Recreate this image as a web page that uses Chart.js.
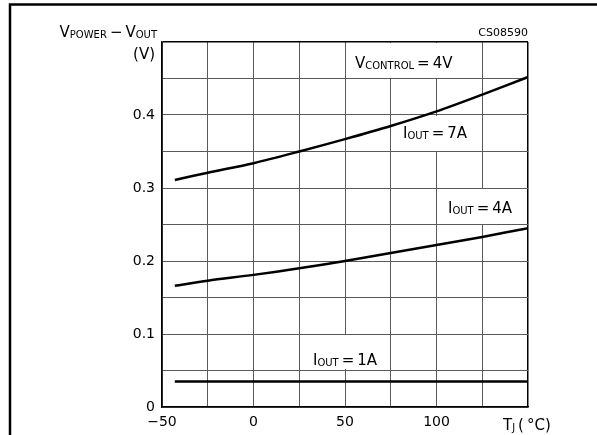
<!DOCTYPE html>
<html>
<head>
<meta charset="utf-8">
<script src="https://cdn.jsdelivr.net/npm/chart.js@4"></script>
<style>
  body { margin: 0; background: #fff; }
  #wrap { width: 597px; height: 435px; }
</style>
</head>
<body>
<div id="wrap"><canvas id="drop-chart" width="597" height="435"></canvas></div>
<script>
// Dropout voltage vs junction temperature

const tempC = [-43, -25, 0, 25, 50, 75, 100, 125, 150];
const drop7A = [0.311, 0.321, 0.334, 0.350, 0.367, 0.385, 0.405, 0.428, 0.452];
const drop4A = [0.166, 0.173, 0.181, 0.190, 0.200, 0.211, 0.222, 0.233, 0.245];
const drop1A = [0.035, 0.035, 0.035, 0.035, 0.035, 0.035, 0.035, 0.035, 0.035];

const xTickLabels = { '-50': '\u221250', '0': '0', '50': '50', '100': '100' };
const yTickLabels = { '0': '0', '10': '0.1', '20': '0.2', '30': '0.3', '40': '0.4' };

const FONT = '"DejaVu Sans", sans-serif';

function pts(ys) {
    return tempC.map((t, i) => ({ x: t, y: ys[i] }));
}

function curve(label, ys) {
    return {
        label: label,
        data: pts(ys),
        borderColor: '#000',
        borderWidth: 2.5,
        pointRadius: 0,
        tension: 0.3,
        fill: false
    };
}

// draws text with smaller subscript parts, left aligned at x
function drawRich(ctx, x, y, parts) {
    ctx.save();
    ctx.fillStyle = '#000';
    ctx.textBaseline = 'alphabetic';
    ctx.textAlign = 'left';
    let cx = x;
    parts.forEach(p => {
        ctx.font = p.size + 'px ' + FONT;
        ctx.fillText(p.t, cx, y + (p.dy || 0));
        cx += ctx.measureText(p.t).width;
    });
    ctx.restore();
}

function richWidth(ctx, parts) {
    let w = 0;
    ctx.save();
    parts.forEach(p => {
        ctx.font = p.size + 'px ' + FONT;
        w += ctx.measureText(p.t).width;
    });
    ctx.restore();
    return w;
}

function whiteBox(ctx, x1, y1, x2, y2) {
    ctx.save();
    ctx.fillStyle = '#fff';
    ctx.fillRect(x1, y1, x2 - x1, y2 - y1);
    ctx.restore();
}

const labelsPlugin = {
    id: 'labels',
    beforeDatasetsDraw(chart) {
        const ctx = chart.ctx;
        whiteBox(ctx, 350, 43, 476, 78);
        drawRich(ctx, 355, 68, [
            { t: 'V', size: 15 }, { t: 'CONTROL', size: 10, dy: 1 }, { t: '\u2009=\u20094V', size: 15 }
        ]);
        whiteBox(ctx, 396, 116, 476, 151);
        drawRich(ctx, 403, 138, [
            { t: 'I', size: 15 }, { t: 'OUT', size: 10, dy: 1 }, { t: '\u2009=\u20097A', size: 15 }
        ]);
        whiteBox(ctx, 441, 189, 526, 224);
        drawRich(ctx, 448, 213, [
            { t: 'I', size: 15 }, { t: 'OUT', size: 10, dy: 1 }, { t: '\u2009=\u20094A', size: 15 }
        ]);
        whiteBox(ctx, 306, 335, 388, 369);
        drawRich(ctx, 313, 365, [
            { t: 'I', size: 15 }, { t: 'OUT', size: 10, dy: 1 }, { t: '\u2009=\u20091A', size: 15 }
        ]);
    },
    afterDraw(chart) {
        const ctx = chart.ctx;
        // page frame
        ctx.save();
        ctx.strokeStyle = '#000';
        ctx.lineWidth = 2.5;
        ctx.beginPath();
        ctx.moveTo(10, 435);
        ctx.lineTo(10, 4.5);
        ctx.lineTo(597, 4.5);
        ctx.stroke();
        ctx.restore();

        const title = [
            { t: 'V', size: 15 }, { t: 'POWER', size: 10, dy: 1 }, { t: '\u2009\u2212\u2009', size: 15 },
            { t: 'V', size: 15 }, { t: 'OUT', size: 10, dy: 1 }
        ];
        drawRich(ctx, 157 - richWidth(ctx, title), 37, title);
        const unit = [{ t: '(V)', size: 15 }];
        drawRich(ctx, 155 - richWidth(ctx, unit), 59, unit);
        const code = [{ t: 'CS08590', size: 11 }];
        drawRich(ctx, 528 - richWidth(ctx, code), 36, code);
        drawRich(ctx, 503, 430, [
            { t: 'T', size: 15 }, { t: 'J', size: 10, dy: 1 }, { t: '\u2009(\u2009\u00b0C)', size: 15 }
        ]);
    }
};

const ctx = document.getElementById('drop-chart').getContext('2d');

new Chart(ctx, {
    type: 'line',
    data: {
        datasets: [
            curve('IOUT = 7A', drop7A),
            curve('IOUT = 4A', drop4A),
            curve('IOUT = 1A', drop1A)
        ]
    },
    options: {
        responsive: false,
        animation: false,
        layout: { padding: { left: 0, top: 42, right: 69, bottom: 0 } },
        plugins: {
            legend: { display: false },
            tooltip: { enabled: false }
        },
        scales: {
            x: {
                type: 'linear',
                min: -50,
                max: 150,
                afterFit: s => { s.height = 28; },
                grid: {
                    color: c => (c.tick && c.tick.value === 150 ? '#000' : '#5a5a5a'),
                    lineWidth: c => (c.tick && c.tick.value === 150 ? 1.5 : 1),
                    drawTicks: false
                },
                border: { color: '#000', width: 1.5 },
                ticks: {
                    stepSize: 25,
                    padding: 7,
                    color: '#000',
                    font: { family: FONT, size: 14 },
                    maxRotation: 0,
                    autoSkip: false,
                    callback: v => xTickLabels[String(v)] || ''
                }
            },
            y: {
                min: 0,
                max: 0.5,
                afterFit: s => { s.width = 162; },
                grid: {
                    color: c => (c.tick && Math.abs(c.tick.value - 0.5) < 1e-6 ? '#000' : '#5a5a5a'),
                    lineWidth: c => (c.tick && Math.abs(c.tick.value - 0.5) < 1e-6 ? 1.5 : 1),
                    drawTicks: false
                },
                border: { color: '#000', width: 1.5 },
                ticks: {
                    stepSize: 0.05,
                    padding: 7,
                    color: '#000',
                    font: { family: FONT, size: 14 },
                    autoSkip: false,
                    callback: v => yTickLabels[String(Math.round(v * 100))] || ''
                }
            }
        }
    },
    plugins: [labelsPlugin]
});
</script>
</body>
</html>
